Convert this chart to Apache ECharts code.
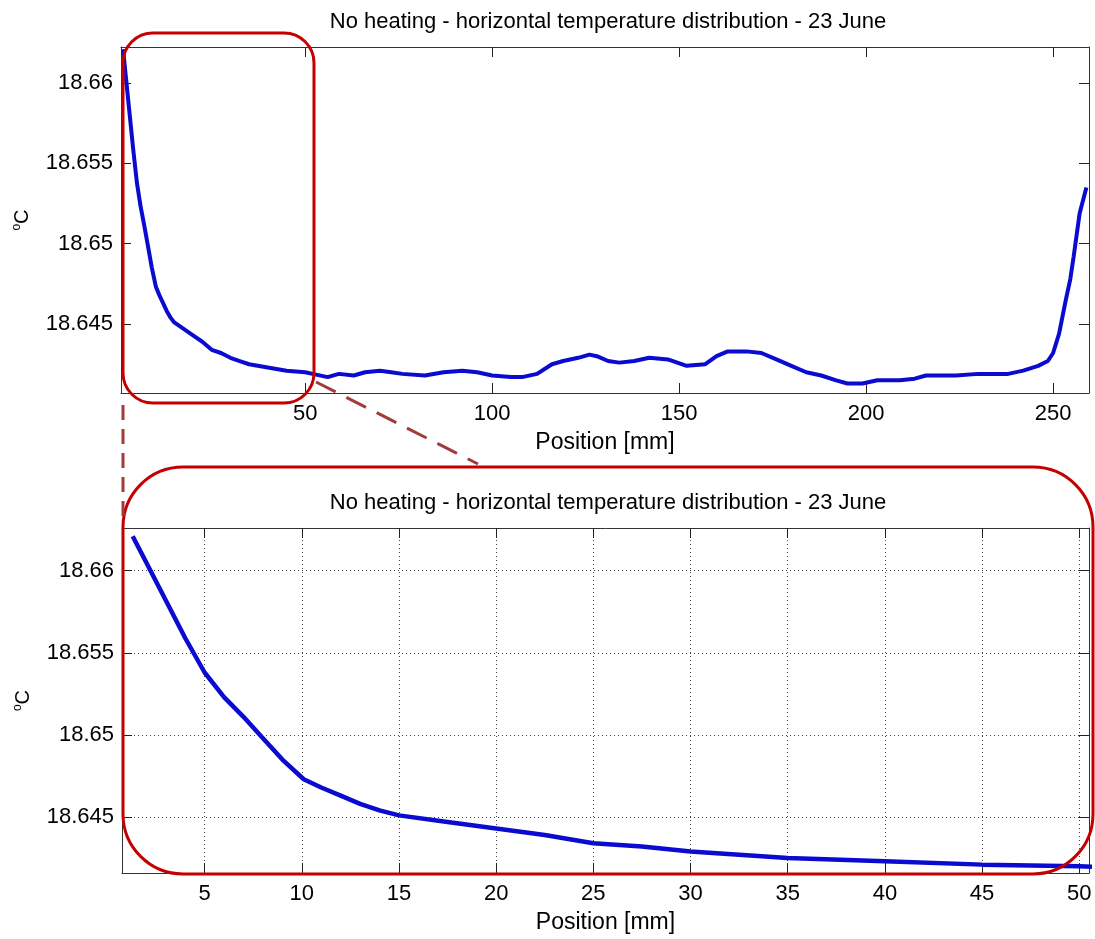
<!DOCTYPE html>
<html>
<head>
<meta charset="utf-8">
<script src="https://cdn.jsdelivr.net/npm/echarts@6/dist/echarts.min.js"></script>
<style>
html,body{margin:0;padding:0;background:#fff;}
#chart{width:1095px;height:939px;}
</style>
</head>
<body>
<div id="chart"></div>
<script>
// ---- data ----
const titleText = 'No heating - horizontal temperature distribution - 23 June';
const xName = 'Position [mm]';
const positions = [1.3,2,3,4,5,6,7,8,9,10.1,11,12,13,14,15,17.5,20,22.5,25,27.5,30,32.5,35,40,45,50,52,56,59,63,66,70,73,76,82,87,92,96,100,105,108,112,116,119,123,126,128,131,134,138,142,147,152,157,160,163,168,172,176,180,184,188,192,195,199,203,209,213,216,220,224,230,238,242,246,248.6,250,251.6,253.4,254.6,255.5,257.1,258.9];
const temps = [18.6621,18.6605,18.6582,18.6559,18.6538,18.6523,18.6511,18.6498,18.6485,18.6473,18.6468,18.6463,18.6458,18.6454,18.6451,18.6447,18.6443,18.6439,18.6434,18.6432,18.6429,18.6427,18.6425,18.6423,18.6421,18.6420,18.6419,18.6417,18.6419,18.6418,18.6420,18.6421,18.6420,18.6419,18.6418,18.6420,18.6421,18.6420,18.6418,18.6417,18.6417,18.6419,18.6425,18.6427,18.6429,18.6431,18.6430,18.6427,18.6426,18.6427,18.6429,18.6428,18.6424,18.6425,18.6430,18.6433,18.6433,18.6432,18.6428,18.6424,18.6420,18.6418,18.6415,18.6413,18.6413,18.6415,18.6415,18.6416,18.6418,18.6418,18.6418,18.6419,18.6419,18.6421,18.6424,18.6427,18.6432,18.6444,18.6465,18.6478,18.6492,18.6519,18.6535];
const xTicksTop = [50,100,150,200,250];
const xTicksBottom = [5,10,15,20,25,30,35,40,45,50];
const yTicks = [18.645,18.65,18.655,18.66];

const seriesData = positions.map((p,i)=>[p,temps[i]]);
const FONT = 'Liberation Sans, Arial, Helvetica, sans-serif';
const AX = '#333';

function yFmt(v){ return String(+(+v).toFixed(3)); }

function xAxisDef(grid, min, max, ticks, primary, gridLines){
  return {
    gridIndex: grid, type: 'value', min: min, max: max,
    position: primary ? 'bottom' : 'top',
    name: primary ? xName : '', nameLocation: 'middle', nameGap: 38,
    nameTextStyle: {fontFamily: FONT, fontSize: 23, color: '#000'},
    axisLine: {show: true, onZero: false, lineStyle: {color: AX, width: 1}},
    axisTick: {show: true, inside: true, length: 10, customValues: ticks, lineStyle: {color: '#222', width: 1}},
    axisLabel: {show: primary, customValues: ticks, margin: 10, fontFamily: FONT, fontSize: 22, color: '#000'},
    splitLine: {show: gridLines && primary, lineStyle: {color: '#444', width: 1, type: [1,3]}}
  };
}
function yAxisDef(grid, min, max, primary, gridLines){
  return {
    gridIndex: grid, type: 'value', min: min, max: max,
    position: primary ? 'left' : 'right',
    name: primary ? '{s|o}C' : '', nameLocation: 'middle', nameGap: 84, nameRotate: 90,
    nameTextStyle: {fontFamily: FONT, fontSize: 20, color: '#000', lineHeight: 24,
      rich: {s: {fontFamily: FONT, fontSize: 12, verticalAlign: 'top', lineHeight: 24, color: '#000'}}},
    axisLine: {show: true, onZero: false, lineStyle: {color: AX, width: 1}},
    axisTick: {show: true, inside: true, length: 10, customValues: yTicks, lineStyle: {color: '#222', width: 1}},
    axisLabel: {show: primary, customValues: yTicks, margin: 8, formatter: yFmt, fontFamily: FONT, fontSize: 22, color: '#000'},
    splitLine: {show: gridLines && primary, lineStyle: {color: '#444', width: 1, type: [1,3]}}
  };
}

const chart = echarts.init(document.getElementById('chart'), null, {renderer: 'canvas'});
chart.setOption({
  animation: false,
  backgroundColor: '#fff',
  title: [
    {text: titleText, left: 603, top: 6, textAlign: 'center',
     textStyle: {fontFamily: FONT, fontSize: 22, fontWeight: 'normal', color: '#000'}},
    {text: titleText, left: 603, top: 487, textAlign: 'center',
     textStyle: {fontFamily: FONT, fontSize: 22, fontWeight: 'normal', color: '#000'}}
  ],
  grid: [
    {left: 121, top: 47, width: 968, height: 346, containLabel: false},
    {left: 122, top: 528, width: 967, height: 345, containLabel: false}
  ],
  xAxis: [
    xAxisDef(0, 0.75, 259.6, xTicksTop, true, false),
    xAxisDef(0, 0.75, 259.6, xTicksTop, false, false),
    xAxisDef(1, 0.75, 50.5, xTicksBottom, true, true),
    xAxisDef(1, 0.75, 50.5, xTicksBottom, false, true)
  ],
  yAxis: [
    yAxisDef(0, 18.64071, 18.66224, true, false),
    yAxisDef(0, 18.64071, 18.66224, false, false),
    yAxisDef(1, 18.64159, 18.6626, true, true),
    yAxisDef(1, 18.64159, 18.6626, false, true)
  ],
  series: [
    {type: 'line', xAxisIndex: 0, yAxisIndex: 0, data: seriesData, showSymbol: false, symbol: 'none',
     lineStyle: {color: '#0a0ad0', width: 4}, clip: true, z: 3},
    {type: 'line', xAxisIndex: 2, yAxisIndex: 2, data: seriesData, showSymbol: false, symbol: 'none',
     lineStyle: {color: '#0a0ad0', width: 4.5}, clip: true, z: 3}
  ],
  graphic: [
    {type: 'rect', z: 100, shape: {x: 123, y: 33, width: 191, height: 370, r: 30},
     style: {fill: null, stroke: '#c40000', lineWidth: 3}},
    {type: 'rect', z: 100, shape: {x: 123, y: 467, width: 970, height: 407, r: 60},
     style: {fill: null, stroke: '#c40000', lineWidth: 3}},
    {type: 'line', z: 100, shape: {x1: 123, y1: 405, x2: 123, y2: 520},
     style: {stroke: '#a23b3b', lineWidth: 3, lineDash: [15, 9]}},
    {type: 'line', z: 100, shape: {x1: 316, y1: 382, x2: 478, y2: 464},
     style: {stroke: '#a23b3b', lineWidth: 3, lineDash: [22, 12]}}
  ]
});
</script>
</body>
</html>
